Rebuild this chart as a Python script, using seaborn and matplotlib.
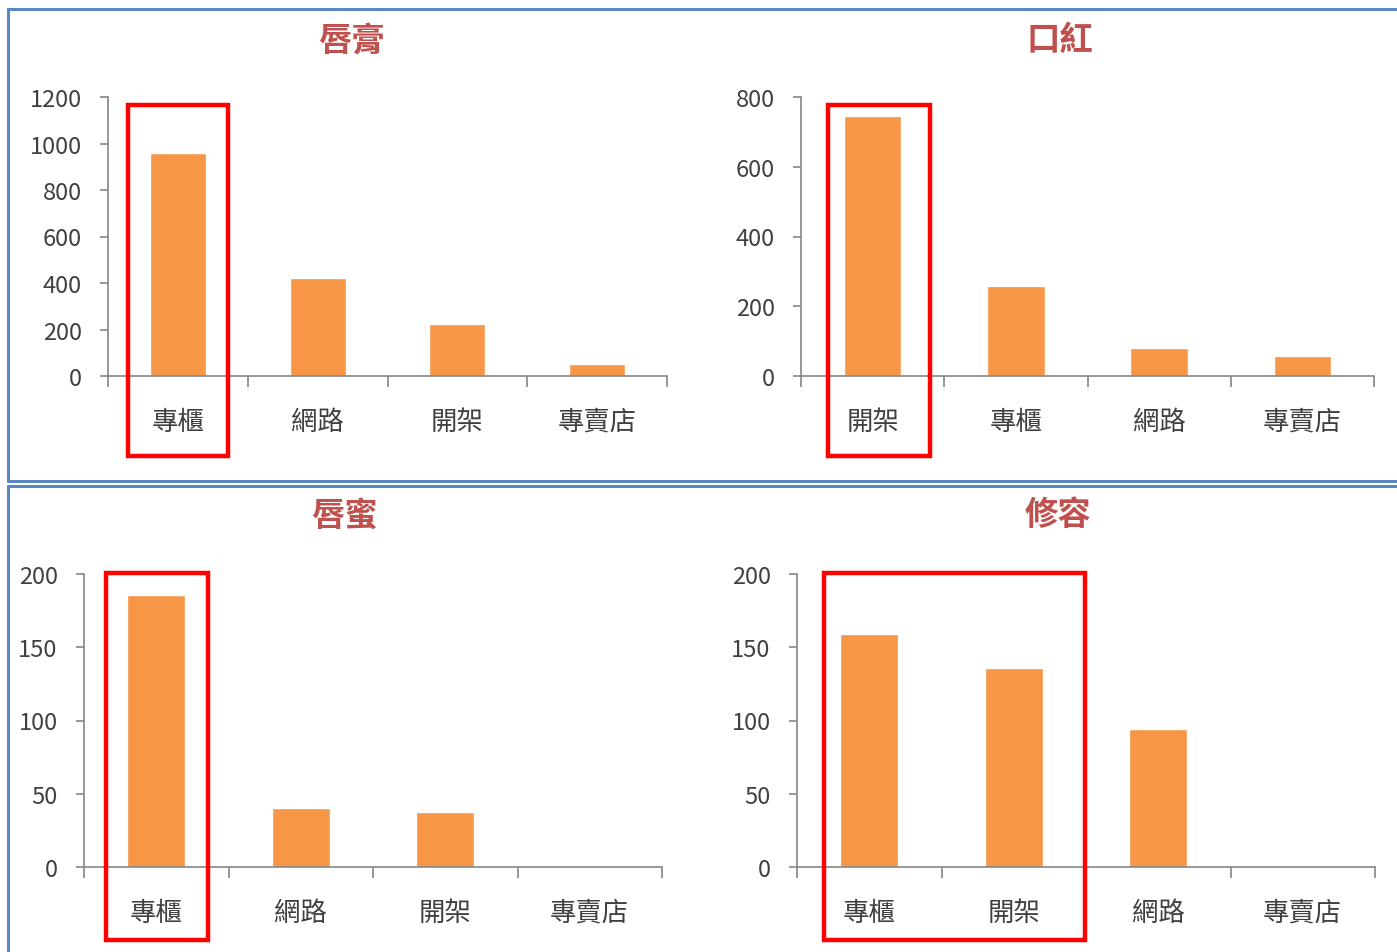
import matplotlib
matplotlib.use("Agg")
import matplotlib.pyplot as plt
import matplotlib.patches as mpatches
import matplotlib.transforms as mtrans
from matplotlib.lines import Line2D
import seaborn as sns
import pandas as pd

sns.set_theme(style="white")
plt.rcParams['font.family'] = ['Noto Sans CJK TC', 'DejaVu Sans']

# ---- data ----
titles = ["唇膏", "口紅", "唇蜜", "修容"]
cats_lipbalm = ["專櫃", "網路", "開架", "專賣店"]
vals_lipbalm = [960, 420, 225, 52]
cats_lipstick = ["開架", "專櫃", "網路", "專賣店"]
vals_lipstick = [745, 258, 80, 57]
cats_gloss = ["專櫃", "網路", "開架", "專賣店"]
vals_gloss = [186, 40, 37.5, 0]
cats_contour = ["專櫃", "開架", "網路", "專賣店"]
vals_contour = [159, 136, 94, 1]
ymax = [1200, 800, 200, 200]
ystep = [200, 200, 50, 50]
# highlighted category span (first index, last index)
highlight = [(0, 0), (0, 0), (0, 0), (0, 1)]

cats_all = [cats_lipbalm, cats_lipstick, cats_gloss, cats_contour]
vals_all = [vals_lipbalm, vals_lipstick, vals_gloss, vals_contour]

W, H = 1397, 953
fig = plt.figure(figsize=(W / 100, H / 100), dpi=100)

def fx(px):
    return px / W

def fy(py):
    return 1 - py / H

# axes rectangles in pixels: left, right, top, bottom
axes_px = [(108, 667, 98, 377), (801, 1374, 98, 377),
           (84, 662, 575, 868), (797, 1375, 575, 868)]
title_px = [(352, 41), (1060, 41), (345, 516), (1058, 516)]
# red box geometry: x padding (left, right) in category units; y in axes fraction
box_pad = [(0.36, 0.36), (0.31, 0.40), (0.35, 0.36), (0.31, 0.49)]
box_y = [(-0.287, 0.971), (-0.287, 0.971), (-0.249, 1.003), (-0.249, 1.003)]

bar_color = "#F79646"
spine_color = "#868686"
text_color = "#404040"

for i in range(4):
    l, r, t, b = axes_px[i]
    ax = fig.add_axes([fx(l), fy(b), fx(r - l), (b - t) / H])
    df = pd.DataFrame({"cat": cats_all[i], "val": vals_all[i]})
    sns.barplot(data=df, x="cat", y="val", order=cats_all[i], color=bar_color,
                saturation=1, width=0.4, ax=ax)
    ax.set_xlim(-0.5, 3.5)
    ax.set_ylim(0, ymax[i])
    ax.set_yticks(list(range(0, ymax[i] + 1, ystep[i])))
    ax.set_xlabel("")
    ax.set_ylabel("")
    for s in ["top", "right"]:
        ax.spines[s].set_visible(False)
    for s in ["left", "bottom"]:
        ax.spines[s].set_color(spine_color)
        ax.spines[s].set_linewidth(1.2)
    # category boundaries as major ticks, labels as minor ticks
    ax.set_xticks([-0.5, 0.5, 1.5, 2.5, 3.5])
    ax.set_xticklabels([])
    ax.set_xticks([0, 1, 2, 3], minor=True)
    ax.set_xticklabels(cats_all[i], minor=True, fontsize=19, color=text_color)
    ax.tick_params(axis="x", which="major", direction="out", length=8, width=1.2,
                   color=spine_color, bottom=True)
    ax.tick_params(axis="x", which="minor", length=0, pad=23, bottom=True)
    ax.tick_params(axis="y", direction="out", length=6, width=1.2, color=spine_color,
                   labelsize=17, labelcolor=text_color, pad=13, left=True)
    ax.grid(False)

    # title
    tx, ty = title_px[i]
    fig.text(fx(tx), fy(ty), titles[i], ha="center", va="center", fontsize=24,
             fontweight="bold", color="#C0504D")

    # red highlight box
    h0, h1 = highlight[i]
    pl, pr = box_pad[i]
    y0, y1 = box_y[i]
    trans = mtrans.blended_transform_factory(ax.transData, ax.transAxes)
    rect = mpatches.Rectangle((h0 - pl, y0), (h1 + pr) - (h0 - pl), y1 - y0,
                              transform=trans, fill=False, edgecolor="#FF0000",
                              linewidth=3.2, clip_on=False, zorder=10)
    ax.add_patch(rect)

# blue panel borders
border = "#5B86C5"
lines = [
    ((8, 8), (10, 482)), ((8, 1397), (10, 10)), ((8, 1397), (482, 482)),
    ((8, 8), (487, 953)), ((8, 1397), (487, 487)),
]
for (xs, ys) in lines:
    fig.add_artist(Line2D([fx(xs[0]), fx(xs[1])], [fy(ys[0]), fy(ys[1])],
                          transform=fig.transFigure, color=border, linewidth=2.2))

fig.savefig("out.png", dpi=100, facecolor="white")
